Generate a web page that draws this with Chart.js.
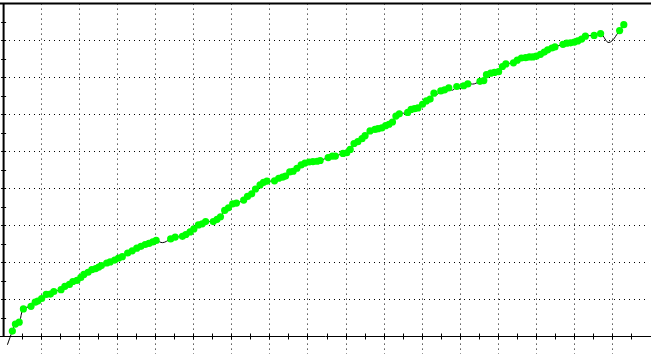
<!DOCTYPE html>
<html><head><meta charset="utf-8">
<script src="https://cdn.jsdelivr.net/npm/chart.js@4.4.1/dist/chart.umd.min.js"></script>
<style>html,body{margin:0;padding:0;background:#fff;overflow:hidden}#wrap{width:651px;height:358px;position:relative;background:#fff}</style>
</head><body><div id="wrap"><canvas id="c"></canvas></div>
<script>
// Marked samples (green dots)
const xValues = [0.23,0.31,0.41,0.52,0.72,0.83,0.90,1.00,1.12,1.23,1.32,1.51,1.61,1.73,1.82,1.93,2.03,2.11,2.22,2.32,2.42,2.50,2.57,2.71,2.80,2.92,3.02,3.12,3.26,3.38,3.50,3.61,3.72,3.82,3.92,4.01,
4.39,4.51,4.70,4.79,4.90,5.00,5.12,5.22,5.31,5.51,5.61,5.70,5.81,5.91,6.02,6.12,6.31,6.41,6.52,6.62,6.74,6.83,6.92,7.12,7.23,7.33,7.41,7.52,7.61,7.71,7.82,7.92,8.03,8.13,8.24,8.32,8.53,8.64,8.72,8.92,9.02,9.11,9.21,9.31,9.42,9.50,9.63,9.76,9.84,9.94,10.04,10.13,10.22,10.31,10.40,
10.62,10.71,10.80,10.89,11.01,11.11,11.21,11.31,11.49,11.59,11.70,11.91,12.09,12.20,12.52,12.62,12.69,12.80,12.90,13.01,13.11,13.20,13.40,13.50,13.61,13.72,13.82,13.91,14.00,14.11,14.21,14.30,14.41,14.49,14.70,14.80,14.90,15.00,15.09,15.19,15.29,15.52,15.69,16.19,16.30];
const yValues = [0.15,0.34,0.39,0.75,0.82,0.93,0.96,1.03,1.14,1.15,1.22,1.27,1.36,1.41,1.49,1.52,1.60,1.68,1.74,1.81,1.84,1.88,1.92,1.99,2.02,2.07,2.12,2.16,2.26,2.32,2.39,2.44,2.49,2.52,2.56,2.60,
2.64,2.69,2.71,2.76,2.83,2.91,3.02,3.05,3.11,3.11,3.17,3.24,3.41,3.48,3.59,3.61,3.69,3.79,3.86,3.99,4.10,4.17,4.20,4.21,4.28,4.31,4.34,4.45,4.47,4.55,4.64,4.69,4.72,4.73,4.74,4.76,4.84,4.88,4.88,4.95,4.97,5.06,5.22,5.27,5.35,5.43,5.56,5.60,5.62,5.64,5.70,5.74,5.80,5.96,6.02,
6.06,6.14,6.16,6.18,6.28,6.37,6.42,6.58,6.64,6.67,6.72,6.76,6.78,6.83,6.90,6.92,7.08,7.12,7.14,7.16,7.30,7.37,7.40,7.47,7.53,7.54,7.56,7.56,7.58,7.63,7.69,7.75,7.80,7.83,7.90,7.93,7.94,7.96,7.99,8.04,8.12,8.14,8.19,8.27,8.43];
// Trace points without a marker (line only)
const traceOnlyX = [0.10,4.18,11.40,11.80,12.00,12.37,15.91];
const traceOnlyY = [-0.22,2.54,6.55,6.66,6.70,6.83,7.95];
// Grid positions (no tick labels in the original)
const xGridTicks = [1,2,3,4,5,6,7,8,9,10,11,12,13,14,15,16];
const yGridTicks = [1,2,3,4,5,6,7,8];
const xRange = [0, 16.92];
const yRange = [-0.48, 9];

const markers = xValues.map((x, i) => ({x, y: yValues[i]}));
const trace = markers.concat(traceOnlyX.map((x, i) => ({x, y: traceOnlyY[i]}))).sort((a, b) => a.x - b.x);

function align(p) { return Math.round(p - 0.5) + 0.5; }

const axesPlugin = {
  id: 'axesDeco',
  beforeDatasetsDraw(chart) {
    const {ctx, scales: {x, y}} = chart;
    const x0 = x.getPixelForValue(0), y0 = y.getPixelForValue(0), yTop = y.getPixelForValue(yRange[1]);
    ctx.save();
    ctx.strokeStyle = '#000';
    ctx.setLineDash([]);
    ctx.lineWidth = 2;
    ctx.beginPath(); ctx.moveTo(0, yTop); ctx.lineTo(chart.width, yTop); ctx.stroke();
    ctx.beginPath(); ctx.moveTo(x0, yTop); ctx.lineTo(x0, y0); ctx.stroke();
    ctx.lineWidth = 1;
    const yA = align(y0);
    ctx.beginPath(); ctx.moveTo(0, yA); ctx.lineTo(chart.width, yA); ctx.stroke();
    ctx.beginPath();
    for (let v = 0.5; v < xRange[1]; v += 0.5) {
      const px = align(x.getPixelForValue(v));
      ctx.moveTo(px, yA - 3); ctx.lineTo(px, yA + 3);
    }
    for (let v = 0.5; v < yRange[1]; v += 0.5) {
      const py = align(y.getPixelForValue(v));
      ctx.moveTo(x0 - 2.5, py); ctx.lineTo(x0 + 2.5, py);
    }
    ctx.stroke();
    ctx.restore();
  }
};

new Chart(document.getElementById('c'), {
  type: 'scatter',
  data: {
    datasets: [
      {data: markers, showLine: false, pointRadius: 3.6, pointHoverRadius: 3.6, pointBackgroundColor: '#00ff00', pointBorderWidth: 0, pointBorderColor: '#00ff00', order: 0},
      {data: trace, showLine: true, borderColor: '#000', borderWidth: 1, pointRadius: 0, tension: 0.4, order: 1}
    ]
  },
  options: {
    animation: false, responsive: true, maintainAspectRatio: false, events: [],
    layout: {padding: {left: 2, top: 2, right: 0, bottom: 0}},
    plugins: {legend: {display: false}, tooltip: {enabled: false}},
    scales: {
      x: {type: 'linear', min: xRange[0], max: xRange[1],
          ticks: {display: false}, grid: {color: '#000', lineWidth: 1, drawTicks: false},
          border: {display: false, dash: [1, 4]},
          afterBuildTicks: s => { s.ticks = xGridTicks.map(v => ({value: v})); }},
      y: {type: 'linear', min: yRange[0], max: yRange[1],
          ticks: {display: false}, grid: {color: '#000', lineWidth: 1, drawTicks: false},
          border: {display: false, dash: [1, 4]},
          afterBuildTicks: s => { s.ticks = yGridTicks.map(v => ({value: v})); }}
    }
  },
  plugins: [axesPlugin]
});
</script>
</body></html>
